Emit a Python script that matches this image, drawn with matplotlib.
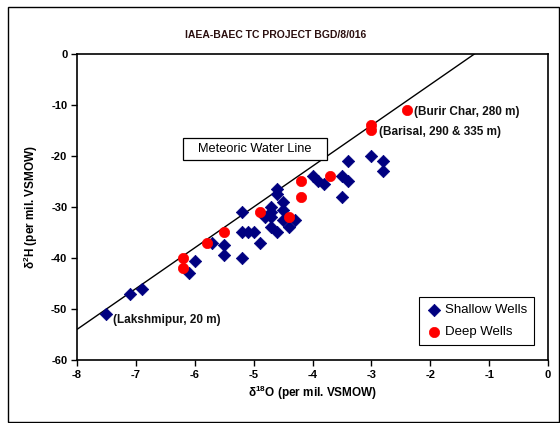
import matplotlib
matplotlib.use("Agg")
import numpy as np
import matplotlib.pyplot as plt
from matplotlib.patches import Rectangle

# isotope data (per mil VSMOW)
shallow_o18 = [-7.5, -7.1, -6.9, -6.1, -6.0, -5.7, -5.5, -5.5, -5.2, -5.2, -5.1, -5.0,
               -5.2, -4.9, -4.7, -4.7, -4.8, -4.7, -4.6, -4.6, -4.5, -4.5, -4.5, -4.7,
               -4.6, -4.4, -4.3, -4.0, -3.9, -3.8, -3.4, -3.5, -3.4, -3.5, -3.0, -2.8, -2.8]
shallow_h2 = [-51, -47, -46, -43, -40.5, -37, -37.5, -39.5, -31, -35, -35, -35,
              -40, -37, -30, -31, -32, -32, -26.5, -27.5, -29, -30.5, -32.5, -34,
              -35, -34, -32.5, -24, -25, -25.5, -21, -24, -25, -28, -20, -21, -23]

deep_o18 = [-6.2, -6.2, -5.8, -5.5, -4.9, -4.4, -4.2, -4.2, -3.7, -3.0, -3.0, -2.4]
deep_h2 = [-40, -42, -37, -35, -31, -32, -25, -28, -24, -14, -15, -11]

# global meteoric water line: dH = 8*dO + 10
gmwl_x = [-8, -1.25]

labels = ["(Lakshmipur, 20 m)", "(Burir Char, 280 m)", "(Barisal, 290 & 335 m)"]
label_pos = [(-7.39, -52.2), (-2.28, -11.4), (-2.87, -15.3)]

plt.rcParams['font.family'] = ['Liberation Sans', 'DejaVu Sans']
plt.rcParams['mathtext.fontset'] = 'custom'
plt.rcParams['mathtext.rm'] = 'Liberation Sans:bold'
plt.rcParams['axes.unicode_minus'] = False

fig = plt.figure(figsize=(5.6, 4.23), dpi=100)
ax = fig.add_axes([77/560, 1-360/423, 471/560, 306/423])

# outer chart frame
fig.patches.append(Rectangle((8/560, 1/423), 1-8/560-1/560, 415/423,
                             transform=fig.transFigure, fill=False,
                             edgecolor='black', lw=1.0))

gx = np.array(gmwl_x)
ax.plot(gx, 8*gx + 10, color='black', lw=1.0, zorder=2)

ax.scatter(shallow_o18, shallow_h2, marker='D', s=40, color='#000080',
           edgecolors='#000080', lw=0.5, zorder=3, label='Shallow Wells')
ax.scatter(deep_o18, deep_h2, marker='o', s=55, color='#ff0000',
           edgecolors='#ff0000', lw=0.5, zorder=4, label='Deep Wells')

for txt, (xx, yy) in zip(labels, label_pos):
    ax.text(xx, yy, txt, fontsize=8.5, fontweight='bold', va='center', ha='left',
            color='#111111')

# text box for the water line label
ax.add_patch(Rectangle((0.225, 0.654), 0.306, 0.071, transform=ax.transAxes,
                       facecolor='white', edgecolor='black', lw=0.9, zorder=5))
ax.text(0.378, 0.689, "Meteoric Water Line", fontsize=9.2, ha='center', va='center',
        transform=ax.transAxes, zorder=6)

ax.set_xlim(-8, 0)
ax.set_ylim(-60, 0)
ax.set_xticks(range(-8, 1))
ax.set_yticks(range(-60, 1, 10))
ax.tick_params(direction='out', length=4, width=1, labelsize=8, pad=3)
for lab in ax.get_xticklabels() + ax.get_yticklabels():
    lab.set_fontweight('bold')
for s in ax.spines.values():
    s.set_linewidth(1.2)

ax.set_xlabel(r'$\mathregular{\delta^{18}O}$ (per mil. VSMOW)', fontsize=8.5,
              fontweight='bold', labelpad=3)
ax.set_ylabel(r'$\mathregular{\delta^{2}H}$ (per mil. VSMOW)', fontsize=8.5,
              fontweight='bold', labelpad=8)

fig.text(276/560, 1-35/423, "IAEA-BAEC TC PROJECT BGD/8/016", fontsize=7.5,
         fontweight='bold', ha='center', va='center', color='#2b0f0f')

leg = ax.legend(loc='lower right', bbox_to_anchor=(0.970, 0.049), fontsize=9.5,
                fancybox=False, edgecolor='black', framealpha=1,
                handletextpad=0.1, borderpad=0.5, labelspacing=0.75,
                handlelength=1.4, borderaxespad=0)
leg.get_frame().set_linewidth(0.8)

fig.savefig("out.png", dpi=100)
